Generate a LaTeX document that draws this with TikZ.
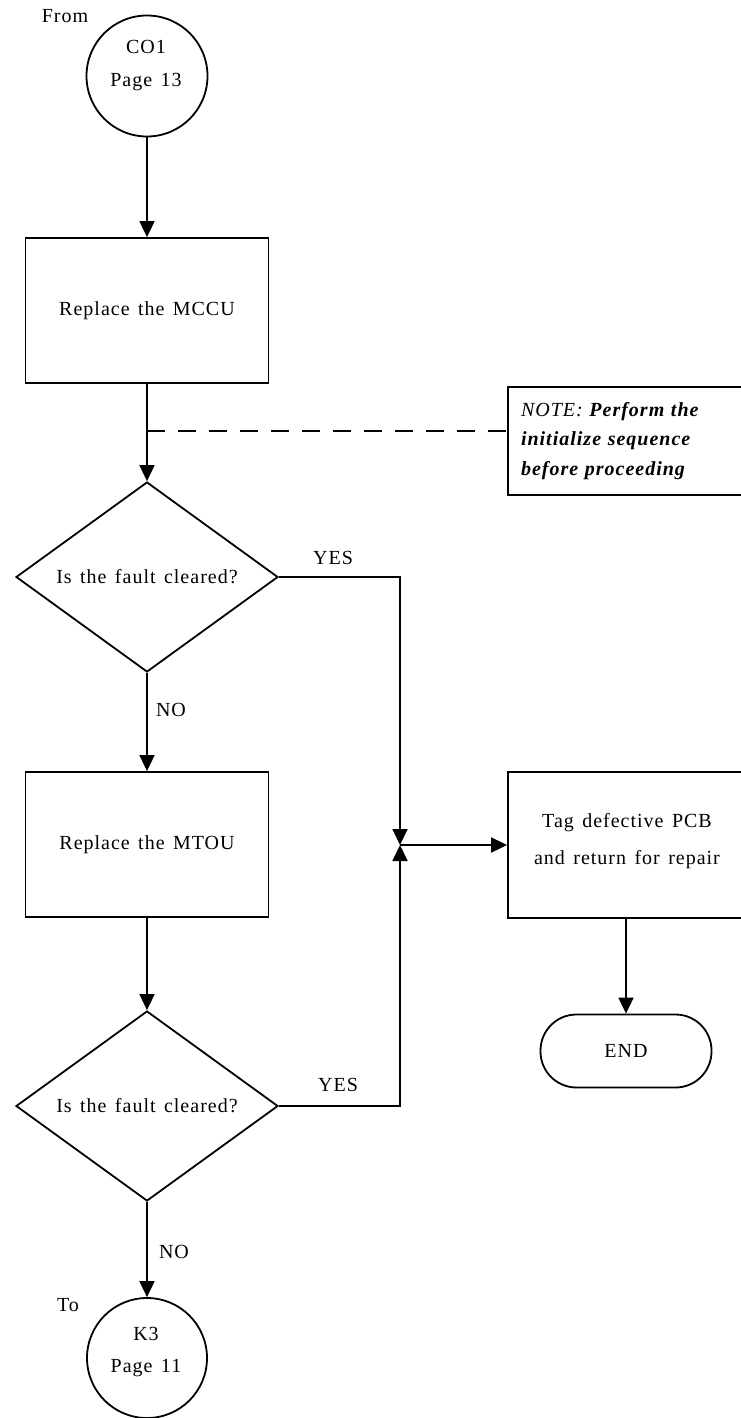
\documentclass[tikz,border=0pt]{standalone}
\usepackage{fontspec}
\setmainfont{Liberation Serif}[LetterSpace=5,WordSpace=1.4]
\usetikzlibrary{arrows.meta,shapes.geometric}
\begin{document}
\begin{tikzpicture}[x=1pt,y=-1pt,line width=1.8pt,
  txt/.style={font=\fontsize{20}{24}\selectfont,inner sep=0pt},
  arr/.style={-{Triangle[length=16pt,width=15pt]}},
  procbox/.style={draw,rectangle,inner sep=0pt,minimum width=243pt,minimum height=145pt,font=\fontsize{20}{24}\selectfont},
  decbox/.style={draw,diamond,aspect=1.38,inner sep=0pt,minimum width=262pt,minimum height=190pt,font=\fontsize{20}{24}\selectfont},
  connbox/.style={draw,circle,inner sep=0pt,minimum size=121pt},
  notedash/.style={dash pattern=on 18pt off 13pt}]
\useasboundingbox (0,0) rectangle (740,1418);
% nodes
\node[connbox] (c1) at (147,76) {};
\node[txt,align=center,font=\fontsize{20}{33}\selectfont] at (146,66) {CO1\\Page 13};
\node[txt] at (65,16) {From};
\node[procbox] (r1) at (147,310.5) {Replace the MCCU};
\node[decbox] (d1) at (147,577) {Is the fault cleared?};
\node[procbox] (r2) at (147,844.5) {Replace the MTOU};
\node[decbox] (d2) at (147,1106) {Is the fault cleared?};
\node[connbox,minimum size=120pt] (c2) at (147,1358) {};
\node[txt,align=center,font=\fontsize{20}{32}\selectfont] at (146,1352) {K3\\Page 11};
\node[txt] at (68,1305) {To};
\node[draw,rectangle,minimum width=258pt,minimum height=108pt,text width=232pt,align=left,inner xsep=13pt,
  font=\fontsize{20}{29.5}\selectfont\itshape] (note) at (637,441)
  {NOTE: \textbf{Perform the}\\\textbf{initialize sequence}\\\textbf{before proceeding}};
\node[draw,rectangle,minimum width=258pt,minimum height=146pt] (tag) at (637,845) {};
\node[txt,align=center,font=\fontsize{20}{37}\selectfont] at (627,841) {Tag defective PCB\\and return for repair};
\node[draw,rectangle,rounded corners=36pt,minimum width=171pt,minimum height=73pt,inner sep=0pt,
  font=\fontsize{20}{24}\selectfont] (end) at (626,1051) {END};
\coordinate (J) at (400,845);
\coordinate (dj) at (147,431);
% labels
\node[txt] at (333,558) {YES};
\node[txt] at (338,1085) {YES};
\node[txt] at (171,710) {NO};
\node[txt] at (174,1252) {NO};
% connectors
\draw[arr] (c1) -- (r1);
\draw[arr] (r1) -- (d1);
\draw[notedash] (dj) -- (dj -| note.west);
\draw[arr] (d1) -- (r2);
\draw[arr] (r2) -- (d2);
\draw[arr] (d2) -- (c2);
\draw[arr] (d1.east) -| (J);
\draw[arr] (d2.east) -| (J);
\draw[arr] (J) -- (tag.west);
\draw[arr] (end.north |- tag.south) -- (end.north);
\end{tikzpicture}
\end{document}
